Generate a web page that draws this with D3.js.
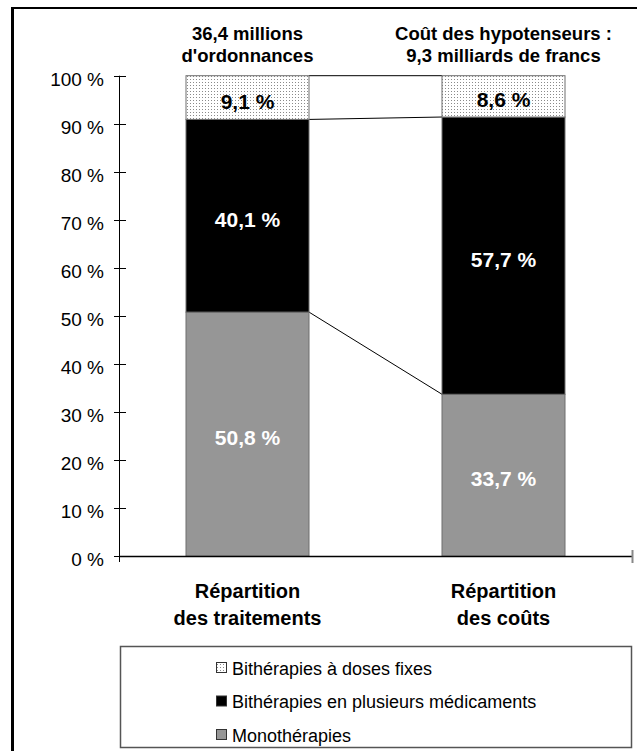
<!DOCTYPE html>
<html><head><meta charset="utf-8">
<script src="https://cdn.jsdelivr.net/npm/d3@7"></script>
<style>body{margin:0;background:#fff}svg{display:block;font-family:"Liberation Sans",Arial,sans-serif}</style>
</head><body><svg id="c" width="637" height="751"></svg>
<script>
const categories = [["Répartition","des traitements"],["Répartition","des coûts"]];
const topTitles = [["36,4 millions","d'ordonnances"],["Coût des hypotenseurs :","9,3 milliards de francs"]];
const seriesNames = ["Monothérapies","Bithérapies en plusieurs médicaments","Bithérapies à doses fixes"];
const mono = [50.8, 33.7];
const biPlus = [40.1, 57.7];
const biFix = [9.1, 8.6];
const segLabels = [["50,8 %","40,1 %","9,1 %"],["33,7 %","57,7 %","8,6 %"]];
const yTicks = [0,10,20,30,40,50,60,70,80,90,100];

const svg = d3.select("#c");
const defs = svg.append("defs");
const pat = defs.append("pattern").attr("id","dots").attr("patternUnits","userSpaceOnUse").attr("width",3).attr("height",3);
pat.append("rect").attr("width",3).attr("height",3).attr("fill","#fff");
pat.append("rect").attr("x",1).attr("y",1).attr("width",1).attr("height",1).attr("fill","#8a8a8a");

const fills = ["#969696","#000","url(#dots)"];
const labelColors = ["#fff","#fff","#000"];

// outer frame
svg.append("line").attr("x1",12.5).attr("x2",12.5).attr("y1",7).attr("y2",751).attr("stroke","#000").attr("stroke-width",3);
svg.append("line").attr("x1",11).attr("x2",637).attr("y1",8).attr("y2",8).attr("stroke","#000").attr("stroke-width",2);

const x = d3.scaleBand().domain([0,1]).range([119.5,631.5]).paddingInner(0).paddingOuter(0);
const y = d3.scaleLinear().domain([0,100]).range([556.2,75.7]);
const bw = 123;

const stack = [0,1].map(i => {
  const vals = [mono[i], biPlus[i], biFix[i]];
  let acc = 0;
  return vals.map((v,k) => { const s = {i,k,y0:acc,y1:acc+v}; acc += v; return s; });
});

// connecting lines
const bx0 = i => x(i) + (x.bandwidth()-bw)/2;
const conn = [stack[0][0].y1, stack[0][1].y1, 100].map((v,k)=>[v, k<2?stack[1][k].y1:100]);
svg.append("g").selectAll("line").data(conn).join("line")
  .attr("x1",bx0(0)+bw).attr("x2",bx0(1))
  .attr("y1",d=>y(d[0])).attr("y2",d=>y(d[1]))
  .attr("stroke","#000").attr("stroke-width",1);

// bars
const g = svg.append("g");
stack.forEach(st => {
  g.selectAll(null).data(st).join("rect")
    .attr("x",d=>bx0(d.i)).attr("width",bw)
    .attr("y",d=>y(d.y1)).attr("height",d=>y(d.y0)-y(d.y1))
    .attr("fill",d=>fills[d.k]).attr("stroke","#6e6e6e").attr("stroke-width",1);
  g.selectAll(null).data(st).join("text")
    .attr("x",d=>bx0(d.i)+bw/2).attr("y",d=>(y(d.y0)+y(d.y1))/2+11)
    .attr("text-anchor","middle").attr("font-weight","bold").attr("font-size",21)
    .attr("fill",d=>labelColors[d.k]).text(d=>segLabels[d.i][d.k]);
});

// y axis
const yAxis = svg.append("g");
yAxis.append("line").attr("x1",119.5).attr("x2",119.5).attr("y1",y(100)).attr("y2",562).attr("stroke","#000");
yAxis.selectAll(".t").data(yTicks).join("line").attr("x1",114).attr("x2",126)
  .attr("y1",d=>Math.round(y(d))+0.5).attr("y2",d=>Math.round(y(d))+0.5).attr("stroke","#000");
yAxis.selectAll("text").data(yTicks).join("text").attr("x",104).attr("y",d=>y(d)+10)
  .attr("text-anchor","end").attr("font-size",19).attr("fill","#000").text(d=>d+" %");

// x axis
svg.append("line").attr("x1",119).attr("x2",632).attr("y1",556.5).attr("y2",556.5).attr("stroke","#000").attr("stroke-width",1.5);
svg.append("line").attr("x1",632.5).attr("x2",632.5).attr("y1",550).attr("y2",563).attr("stroke","#888").attr("stroke-width",2);

// category labels
categories.forEach((c,i)=>{
  c.forEach((t,j)=>svg.append("text").attr("x",x(i)+x.bandwidth()/2).attr("y",598+j*27)
    .attr("text-anchor","middle").attr("font-weight","bold").attr("font-size",20).text(t));
});
// top titles
topTitles.forEach((c,i)=>{
  c.forEach((t,j)=>svg.append("text").attr("x",x(i)+x.bandwidth()/2).attr("y",40+j*22)
    .attr("text-anchor","middle").attr("font-weight","bold").attr("font-size",18.5).text(t));
});

// legend
const lg = svg.append("g");
lg.append("rect").attr("x",120.5).attr("y",646.5).attr("width",511).attr("height",101).attr("fill","#fff").attr("stroke","#555").attr("stroke-width",1.5);
const legOrder = [2,1,0];
legOrder.forEach((k,r)=>{
  const cy = 668 + r*33.5;
  lg.append("rect").attr("x",216.5).attr("y",cy-5.5).attr("width",10).attr("height",10).attr("fill",fills[k]).attr("stroke","#333");
  lg.append("text").attr("x",232).attr("y",cy+6.5).attr("font-size",18).text(seriesNames[k]);
});
</script></body></html>
